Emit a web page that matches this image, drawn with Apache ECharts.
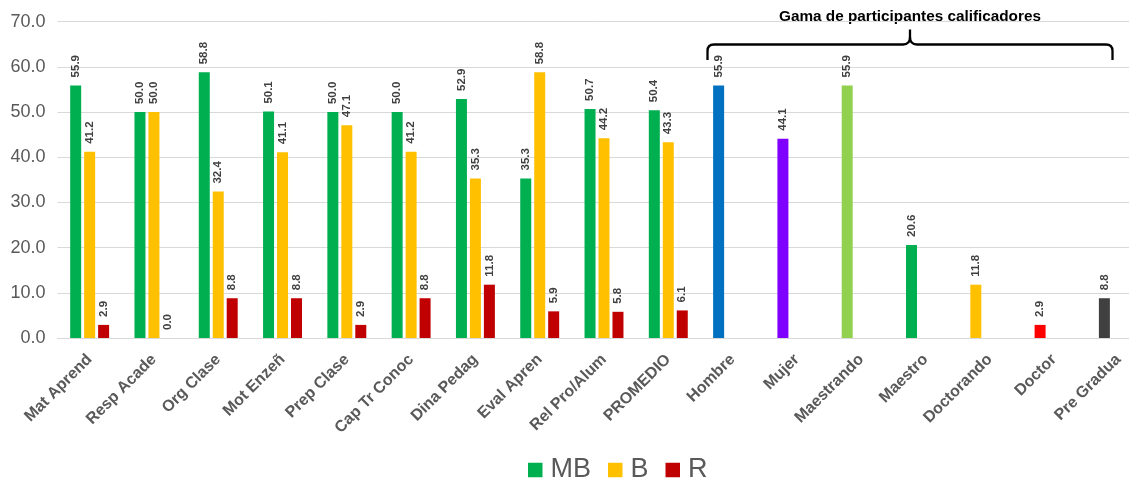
<!DOCTYPE html>
<html>
<head>
<meta charset="utf-8">
<script src="https://cdn.jsdelivr.net/npm/echarts@6/dist/echarts.min.js"></script>
<style>
html,body{margin:0;padding:0;background:#fff;}
#chart{width:1129px;height:482px;}
</style>
</head>
<body>
<div id="chart"></div>
<script>
// ---- data ----
const evalCategories = ['Mat Aprend','Resp Acade','Org Clase','Mot Enzeñ','Prep Clase','Cap Tr Conoc','Dina Pedag','Eval Apren','Rel Pro/Alum','PROMEDIO'];
const profileCategories = ['Hombre','Mujer','Maestrando','Maestro','Doctorando','Doctor','Pre Gradua'];
const mbValues = [55.9, 50.0, 58.8, 50.1, 50.0, 50.0, 52.9, 35.3, 50.7, 50.4];
const bValues  = [41.2, 50.0, 32.4, 41.1, 47.1, 41.2, 35.3, 58.8, 44.2, 43.3];
const rValues  = [2.9, 0.0, 8.8, 8.8, 2.9, 8.8, 11.8, 5.9, 5.8, 6.1];
const profileValues = [55.9, 44.1, 55.9, 20.6, 11.8, 2.9, 8.8];
const yTicks = [0, 10, 20, 30, 40, 50, 60, 70];
const annotationText = 'Gama de participantes calificadores';

// ---- styles ----
const profileColors = ['#0070C0','#8000FF','#92D050','#00B050','#FFC000','#FF0000','#404040'];
const seriesColors = {MB:'#00B050', B:'#FFC000', R:'#C00000'};
const FONT = 'Arial, "Liberation Sans", sans-serif';

const categories = evalCategories.concat(profileCategories);
const pad = profileCategories.map(() => null);
const mbData = mbValues.concat(profileValues.map((v, i) => ({value: v, itemStyle: {color: profileColors[i]}})));
const bData = bValues.concat(pad);
const rData = rValues.concat(pad);

const labelCfg = {
  show: true,
  position: 'top',
  rotate: 90,
  align: 'left',
  verticalAlign: 'middle',
  distance: 8,
  fontSize: 11.5,
  fontWeight: 'bold',
  fontFamily: FONT,
  color: '#404040',
  formatter: p => (p.value == null ? '' : Number(p.value).toFixed(1))
};

function barSeries(name, data) {
  return {
    name, type: 'bar', data,
    barWidth: 11, barGap: '27%',
    itemStyle: {color: seriesColors[name]},
    label: labelCfg,
    emphasis: {disabled: true},
    animation: false
  };
}

const braceStyle = {stroke: '#000', lineWidth: 2.3, fill: null};
function seg(x1, y1, x2, y2) { return {type: 'line', shape: {x1, y1, x2, y2}, style: braceStyle}; }
function curve(x1, y1, cx, cy, x2, y2) { return {type: 'bezierCurve', shape: {x1, y1, x2, y2, cpx1: cx, cpy1: cy}, style: braceStyle}; }

const chart = echarts.init(document.getElementById('chart'), null, {renderer: 'canvas'});
chart.setOption({
  animation: false,
  grid: {left: 57.5, top: 21.7, width: 1093, height: 316.3, containLabel: false, outerBoundsMode: 'none'},
  legend: {
    data: ['MB','B','R'],
    left: 528, top: 456.5, padding: 0,
    icon: 'rect', itemWidth: 14.5, itemHeight: 14.5, itemGap: 17,
    textStyle: {fontSize: 27, color: '#595959', fontFamily: FONT, padding: [0, 0, 0, 3]},
    selectedMode: false
  },
  xAxis: {
    type: 'category',
    data: categories,
    axisLine: {lineStyle: {color: '#D9D9D9', width: 1}},
    axisTick: {show: false},
    axisLabel: {interval: 0, rotate: 45, margin: 19, fontSize: 16, fontWeight: 'bold', color: '#595959', fontFamily: FONT}
  },
  yAxis: {
    type: 'value',
    min: yTicks[0], max: yTicks[yTicks.length-1], interval: 10,
    axisLine: {show: false}, axisTick: {show: false},
    splitLine: {lineStyle: {color: '#D9D9D9', width: 1}},
    axisLabel: {fontSize: 18, color: '#595959', fontFamily: FONT, margin: 12, formatter: v => v.toFixed(1)}
  },
  series: [barSeries('MB', mbData), barSeries('B', bData), barSeries('R', rData)],
  graphic: [
    {
      type: 'text', x: 910, y: 17,
      style: {text: annotationText, align: 'center', verticalAlign: 'middle', fontSize: 15.3, fontWeight: 'bold', fill: '#000', fontFamily: FONT}
    },
    seg(707.5, 60, 707.5, 51),
    curve(707.5, 51, 707.5, 44.5, 714, 44.5),
    seg(714, 44.5, 903, 44.5),
    curve(903, 44.5, 910, 44.5, 910, 37),
    seg(910, 37, 910, 29.5),
    curve(910, 37, 910, 44.5, 917, 44.5),
    seg(917, 44.5, 1106, 44.5),
    curve(1106, 44.5, 1112.5, 44.5, 1112.5, 51),
    seg(1112.5, 51, 1112.5, 60)
  ]
});
</script>
</body>
</html>
